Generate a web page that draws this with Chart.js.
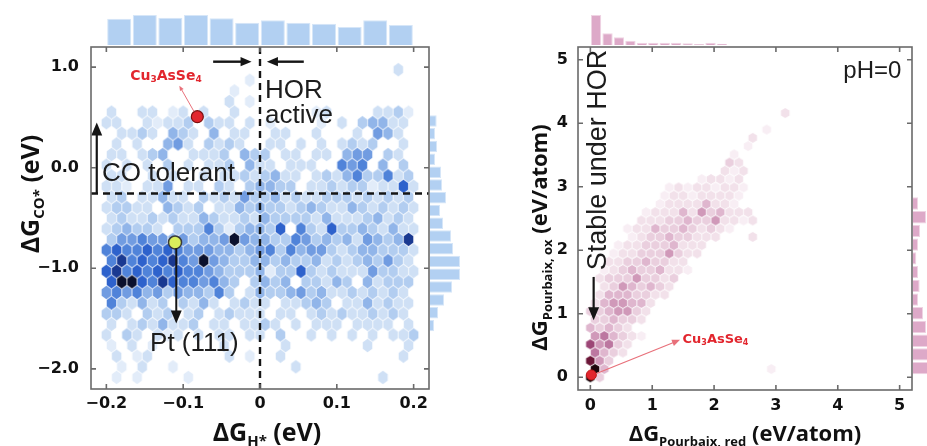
<!DOCTYPE html>
<html>
<head>
<meta charset="utf-8">
<script src="https://cdn.jsdelivr.net/npm/chart.js@4.4.1/dist/chart.umd.min.js"></script>
<style>
body{margin:0;background:#fff;}
#fig{position:relative;width:927px;height:446px;overflow:hidden;background:#fff;}
#fig canvas{position:absolute;}
</style>
</head>
<body>
<div id="fig">
<canvas id="hexCO" width="470" height="446" style="left:0;top:0"></canvas>
<canvas id="histHTop" width="338" height="34" style="left:91px;top:11px"></canvas>
<canvas id="histCORight" width="36" height="342" style="left:430px;top:47px"></canvas>
<canvas id="hexPb" width="457" height="446" style="left:470px;top:0"></canvas>
<canvas id="histRedTop" width="334" height="34" style="left:578px;top:11px"></canvas>
<canvas id="histOxRight" width="40" height="343" style="left:913px;top:47px"></canvas>
</div>
<script>
// hexbin counts (density level 0-9), one string per hex row, top row first
// ΔG_H* vs ΔG_CO*: rows r = 20 .. -9, y = -1.135 + r*0.1055
const hexRowsCO = [
  "0000 0000 0000 0000 0000 0000 0000 200",
  "0000 0000 0000 0010 0000 0000 0000 000",
  "0000 0000 0000 1000 0000 0000 0000 000",
  "0000 0000 0000 2010 0000 0000 0000 000",
  "2002 2012 0200 2000 0000 1200 0022 310",
  "2200 2122 3032 2020 1000 0102 0344 220",
  "0223 2043 2040 2200 2200 2000 2054 200",
  "0202 0045 2032 3200 2202 0202 3230 020",
  "2202 3400 2223 0433 0220 2204 5503 200",
  "2020 2030 2022 3042 2022 2006 5604 030",
  "2200 2020 0202 2323 4220 2324 6336 230",
  "2210 2250 2203 2034 4330 2232 3312 272",
  "2302 2422 0323 2533 4232 2333 2323 230",
  "2332 2043 2302 2434 3323 4322 4323 232",
  "2322 3232 2432 2324 3333 2422 2342 320",
  "2343 3203 3363 1344 3706 3273 3432 422",
  "3556 5545 3445 9544 3365 3434 2543 480",
  "6766 7676 5554 4345 6364 5532 3443 332",
  "6867 6786 5954 3344 3433 4232 3435 320",
  "7867 6767 6654 3334 1337 3232 2253 322",
  "7997 6876 6564 3034 3403 3243 0423 330",
  "5656 4535 4436 3024 3345 3422 3232 320",
  "6324 2303 2420 2322 0223 4302 2423 220",
  "3320 3230 2302 3222 0220 2323 2232 320",
  "2023 2422 3022 0223 2020 2220 2222 020",
  "2032 0212 0202 2022 0300 2020 2020 223",
  "1020 1000 0002 0000 0200 0000 0200 020",
  "0201 2000 0000 2010 0200 0000 0000 020",
  "0102 0010 0000 0000 0020 0000 0000 000",
  "0101 0000 1000 0000 0000 0000 0002 000"
];
// ΔG_Pourbaix red vs ox: rows r = 33 .. 0, y = r*0.13
const hexRowsPb = [
  "0000 0000 0000 0000 0000 000",
  "0000 0000 0000 0000 0000 020",
  "0000 0000 0000 0000 0000 000",
  "0000 0000 0000 0000 0001 000",
  "0000 0000 0000 0000 0200 000",
  "0000 0000 0000 0000 0100 000",
  "0000 0000 0000 0001 0000 000",
  "0000 0000 0000 0003 2000 000",
  "0000 0000 0000 0021 2000 000",
  "0000 0000 0000 1221 2000 000",
  "0000 0000 1212 2122 1000 000",
  "0000 0000 1221 2222 1000 000",
  "0000 0001 2222 4221 0000 000",
  "0000 0012 2242 5342 2200 000",
  "0000 0222 3343 3522 1200 000",
  "0000 1224 3343 2321 0000 000",
  "0000 1233 4332 2200 0200 000",
  "0001 2233 3422 2000 0000 000",
  "0012 2333 5322 0000 0000 000",
  "0022 3343 3220 0000 0000 000",
  "0123 4334 2210 0000 0000 000",
  "0233 3533 2300 0000 0000 000",
  "0235 4343 2000 0000 0000 000",
  "0244 4332 2000 0000 0000 000",
  "2455 4420 0000 0000 0000 000",
  "3345 5320 0000 0000 0000 000",
  "3343 3200 0000 0000 0000 000",
  "4343 2000 0000 0000 0000 000",
  "5643 2100 0000 0000 0000 000",
  "7563 2000 0000 0000 0000 000",
  "6432 0000 0000 0000 0000 000",
  "8530 0000 0000 0000 0000 000",
  "9400 0000 0000 0000 0001 000",
  "9300 0000 0000 0000 0000 000"
];

// marginal histograms
const binsHTop = [-0.1833, -0.15, -0.1167, -0.0833, -0.05, -0.0167, 0.0167, 0.05, 0.0833, 0.1167, 0.15, 0.1833];
const countsHTop = [79, 90, 82, 90, 80, 67, 74, 67, 64, 54, 74, 60];
const binsCORight = [0.464, 0.337, 0.21, 0.083, -0.044, -0.171, -0.298, -0.425, -0.552, -0.679, -0.806, -0.933, -1.06, -1.187, -1.314, -1.441, -1.568];
const countsCORight = [20, 15, 21, 15, 33, 36, 48, 30, 39, 63, 69, 90, 90, 66, 42, 24, 12];
const binsRedTop = [0.0925, 0.2775, 0.4625, 0.6475, 0.8325, 1.0175, 1.2025, 1.3875, 1.5725, 1.7575, 1.9425, 2.1275];
const countsRedTop = [300, 117, 77, 43, 23, 23, 23, 23, 17, 10, 23, 13];
const binsOxRight = [0.144, 0.36, 0.576, 0.792, 1.008, 1.224, 1.44, 1.656, 1.872, 2.088, 2.304, 2.52, 2.736];
const countsOxRight = [60, 66, 57, 39, 30, 15, 20, 15, 10, 15, 21, 39, 15];

// highlighted materials
const cu3AsSe4CO = [{x: -0.0816, y: 0.507}];
const pt111CO = [{x: -0.1106, y: -0.743}];
const cu3AsSe4Pb = [{x: 0.016, y: 0.037}];

// tick labels
const ticksH = [-0.2, -0.1, 0, 0.1, 0.2];
const ticksCO = [1, 0, -1, -2];
const ticksPb = [0, 1, 2, 3, 4, 5];

const blues = [null, '#e2ecf9', '#cfe0f5', '#b2cdf0', '#91b5e9', '#719ce1', '#5083d9', '#2e62cc', '#1a3991', '#0b112e'];
const pinks = [null, '#f8eef4', '#f2e1ea', '#eacfde', '#dfb6ce', '#d099b9', '#bc77a0', '#9c4676', '#6b1637', '#1c060b'];
const RED = '#e2262e';

const SANS = '"Open Sans", "DejaVu Sans", sans-serif';
const DEJA = '"DejaVu Sans", sans-serif';
const ARIAL = '"Liberation Sans", Arial, sans-serif';
const bold = s => `bold ${s}px ${SANS}`;
const plain = s => `${s}px ${ARIAL}`;

function hexCells(rows, topRow, x0, dx, y0, dy, shiftEven) {
  const cells = [];
  rows.forEach((row, k) => {
    const r = topRow - k;
    const shifted = (Math.abs(r) % 2 === 0) === shiftEven;
    row.replace(/ /g, '').split('').forEach((ch, i) => {
      const v = +ch;
      if (!v) return;
      cells.push({x: x0 + (i + (shifted ? 0.5 : 0)) * dx, y: y0 + r * dy, v});
    });
  });
  return cells;
}

const sprites = {};
function hexSprite(color, hw, vh) {
  const key = color + '|' + hw.toFixed(2) + '|' + vh.toFixed(2);
  if (sprites[key]) return sprites[key];
  const c = document.createElement('canvas');
  c.width = Math.ceil(hw * 2) + 2;
  c.height = Math.ceil(vh * 2) + 2;
  const g = c.getContext('2d');
  const cx = c.width / 2, cy = c.height / 2, a = hw - 0.35, b = vh - 0.4;
  g.beginPath();
  g.moveTo(cx, cy - b);
  g.lineTo(cx + a, cy - b / 2);
  g.lineTo(cx + a, cy + b / 2);
  g.lineTo(cx, cy + b);
  g.lineTo(cx - a, cy + b / 2);
  g.lineTo(cx - a, cy - b / 2);
  g.closePath();
  g.fillStyle = color;
  g.fill();
  sprites[key] = c;
  return c;
}

// pointStyle that sizes each hexagon from the bin width in scale units
function hexStyle(dx, dy, palette) {
  return ctx => {
    const xs = ctx.chart.scales.x, ys = ctx.chart.scales.y;
    const hw = Math.abs(xs.getPixelForValue(dx) - xs.getPixelForValue(0)) / 2;
    const vh = Math.abs(ys.getPixelForValue(dy) - ys.getPixelForValue(0)) * 2 / 3;
    const v = ctx.raw && ctx.raw.v ? ctx.raw.v : 1;
    return hexSprite(palette[v], hw, vh);
  };
}

function drawRich(ctx, parts, x, y, rot, align) {
  ctx.save();
  ctx.translate(x, y);
  ctx.rotate(rot || 0);
  let total = 0;
  parts.forEach(p => { ctx.font = p[1]; total += ctx.measureText(p[0]).width; });
  let cx = align === 'left' ? 0 : -total / 2;
  ctx.textAlign = 'left';
  ctx.textBaseline = 'alphabetic';
  parts.forEach(p => {
    ctx.font = p[1];
    ctx.fillStyle = p[3] || '#111';
    ctx.fillText(p[0], cx, p[2] || 0);
    cx += ctx.measureText(p[0]).width;
  });
  ctx.restore();
}

function arrow(ctx, x1, y1, x2, y2, color, w, head) {
  const ang = Math.atan2(y2 - y1, x2 - x1);
  const cs = Math.cos(ang), sn = Math.sin(ang);
  const hw = head * 0.42;
  const bx = x2 - head * cs, by = y2 - head * sn;
  ctx.save();
  ctx.strokeStyle = color;
  ctx.fillStyle = color;
  ctx.lineWidth = w;
  ctx.beginPath();
  ctx.moveTo(x1, y1);
  ctx.lineTo(bx + cs, by + sn);
  ctx.stroke();
  ctx.beginPath();
  ctx.moveTo(x2, y2);
  ctx.lineTo(bx - hw * sn, by + hw * cs);
  ctx.lineTo(bx + hw * sn, by - hw * cs);
  ctx.closePath();
  ctx.fill();
  ctx.restore();
}

// annotations, box with inward ticks, and axis titles with subscripts
function notesPlugin(items, titles) {
  return {
    id: 'notes',
    afterDatasetsDraw(chart) {
      const {ctx, chartArea: a} = chart;
      const xs = chart.scales.x, ys = chart.scales.y;
      const px = v => xs.getPixelForValue(v), py = v => ys.getPixelForValue(v);
      ctx.save();
      ctx.beginPath();
      ctx.rect(a.left, a.top, a.right - a.left, a.bottom - a.top);
      ctx.clip();
      items.forEach(it => {
        if (it.kind === 'vline' || it.kind === 'hline') {
          ctx.save();
          ctx.setLineDash([7, 5]);
          ctx.lineWidth = 2.4;
          ctx.strokeStyle = '#151515';
          ctx.beginPath();
          if (it.kind === 'vline') { ctx.moveTo(px(it.x), a.top); ctx.lineTo(px(it.x), a.bottom); }
          else { ctx.moveTo(a.left, py(it.y)); ctx.lineTo(a.right, py(it.y)); }
          ctx.stroke();
          ctx.restore();
        } else if (it.kind === 'arrow') {
          arrow(ctx, px(it.from[0]), py(it.from[1]), px(it.to[0]), py(it.to[1]),
            it.color || '#151515', it.width || 2.2, it.head || 11);
        } else if (it.kind === 'text') {
          drawRich(ctx, it.parts, px(it.at[0]), py(it.at[1]), (it.rot || 0) * Math.PI / 180, 'left');
        }
      });
      ctx.restore();

      ctx.save();
      ctx.strokeStyle = '#6a6a6a';
      ctx.lineWidth = 1.6;
      ctx.strokeRect(a.left, a.top, a.right - a.left, a.bottom - a.top);
      ctx.beginPath();
      xs.ticks.forEach(t => {
        const p = px(t.value);
        ctx.moveTo(p, a.bottom); ctx.lineTo(p, a.bottom - 5);
        ctx.moveTo(p, a.top); ctx.lineTo(p, a.top + 5);
      });
      ys.ticks.forEach(t => {
        const p = py(t.value);
        ctx.moveTo(a.left, p); ctx.lineTo(a.left + 5, p);
        ctx.moveTo(a.right, p); ctx.lineTo(a.right - 5, p);
      });
      ctx.stroke();
      ctx.restore();
    },
    afterDraw(chart) {
      const {ctx, chartArea: a} = chart;
      drawRich(ctx, titles.x.parts, (a.left + a.right) / 2 + titles.x.shift, chart.height - titles.x.base, 0, 'center');
      drawRich(ctx, titles.y.parts, titles.y.base, (a.top + a.bottom) / 2 + titles.y.shift, -Math.PI / 2, 'center');
    }
  };
}

function fixedBox(size, horizontal) {
  return s => { if (horizontal) s.height = size; else s.width = size; };
}

const cuLabel = s => [
  ['Cu', `bold ${s}px ${DEJA}`, 0, RED],
  ['3', `bold ${Math.round(s * 0.62)}px ${DEJA}`, 2, RED],
  ['AsSe', `bold ${s}px ${DEJA}`, 0, RED],
  ['4', `bold ${Math.round(s * 0.62)}px ${DEJA}`, 2, RED]
];

const common = {
  responsive: false,
  animation: false,
  devicePixelRatio: 1,
  events: [],
  plugins: {legend: {display: false}, tooltip: {enabled: false}}
};

function tickOpts(list, fmt, pad) {
  return {
    font: {family: DEJA, size: 16, weight: 'bold'},
    color: '#111',
    padding: pad,
    stepSize: 1,
    includeBounds: false,
    callback: v => list.some(t => Math.abs(t - v) < 1e-9) ? fmt(v) : null
  };
}

const minus = v => (v < -1e-9 ? '\u2212' : '') + Math.abs(v).toFixed(1);

// ---- ΔG_H* vs ΔG_CO* ----
const notesCO = [
  {kind: 'vline', x: 0},
  {kind: 'hline', y: -0.257},
  {kind: 'arrow', from: [-0.061, 1.054], to: [-0.011, 1.054], width: 2.4, head: 11},
  {kind: 'arrow', from: [0.057, 1.054], to: [0.009, 1.054], width: 2.4, head: 11},
  {kind: 'arrow', from: [-0.2125, -0.257], to: [-0.2125, 0.45], width: 2.2, head: 13},
  {kind: 'arrow', from: [-0.109, -0.8], to: [-0.109, -1.55], width: 2, head: 13},
  {kind: 'arrow', from: [-0.086, 0.56], to: [-0.105, 0.815], color: '#e8707a', width: 1, head: 5},
  {kind: 'text', at: [0.0065, 0.69], parts: [['HOR', plain(26), 0, '#1c1c1c']]},
  {kind: 'text', at: [0.0065, 0.448], parts: [['active', plain(26), 0, '#1c1c1c']]},
  {kind: 'text', at: [-0.2056, -0.1325], parts: [['CO tolerant', plain(26), 0, '#1c1c1c']]},
  {kind: 'text', at: [-0.1431, -1.827], parts: [['Pt (111)', plain(26), 0, '#1c1c1c']]},
  {kind: 'text', at: [-0.169, 0.873], parts: cuLabel(14)}
];
const titlesCO = {
  x: {parts: [['\u0394G', bold(25)], ['H*', bold(15), 5], [' (eV)', bold(25)]], shift: 7, base: 5},
  y: {parts: [['\u0394G', bold(25)], ['CO*', bold(15), 5], [' (eV)', bold(25)]], shift: -24, base: 39}
};

new Chart(document.getElementById('hexCO'), {
  type: 'scatter',
  data: {
    datasets: [
      {data: hexCells(hexRowsCO, 20, -0.2, 0.4 / 30, -1.135, 0.1055, true), order: 2,
       pointStyle: hexStyle(0.4 / 30, 0.1055, blues), pointRadius: 5},
      {data: cu3AsSe4CO, order: 1, pointStyle: 'circle', pointRadius: 6, backgroundColor: RED, borderColor: '#7a1010', borderWidth: 1.2},
      {data: pt111CO, order: 0, pointStyle: 'circle', pointRadius: 6.5, backgroundColor: '#d9ee5c', borderColor: '#3a3a3a', borderWidth: 1.5}
    ]
  },
  options: {
    ...common,
    layout: {padding: {top: 47, right: 41, bottom: 0, left: 0}},
    scales: {
      x: {type: 'linear', min: -0.22, max: 0.22, grid: {display: false, drawTicks: false}, border: {display: false},
          afterFit: fixedBox(57, true),
          ticks: {...tickOpts(ticksH, v => Math.abs(v) < 1e-9 ? '0' : minus(v), 5), stepSize: 0.1}},
      y: {type: 'linear', min: -2.2, max: 1.2, grid: {display: false, drawTicks: false}, border: {display: false},
          afterFit: fixedBox(91, false),
          ticks: tickOpts(ticksCO, minus, 12)}
    }
  },
  plugins: [notesPlugin(notesCO, titlesCO)]
});

// ---- Pourbaix red vs ox ----
const notesPb = [
  {kind: 'text', at: [4.09, 4.71], parts: [['pH=0', plain(24), 0, '#1c1c1c']]},
  {kind: 'text', at: [0.248, 1.685], rot: -90, parts: [['Stable under HOR', plain(27), 0, '#1c1c1c']]},
  {kind: 'arrow', from: [0.053, 1.58], to: [0.053, 0.9], width: 2.2, head: 13},
  {kind: 'arrow', from: [0.1, 0.06], to: [1.45, 0.59], color: '#e8707a', width: 1.2, head: 8},
  {kind: 'text', at: [1.49, 0.54], parts: cuLabel(13)}
];
const titlesPb = {
  x: {parts: [['\u0394G', bold(22)], ['Pourbaix, red', bold(13), 5], [' (eV/atom)', bold(22)]], shift: 0, base: 5},
  y: {parts: [['\u0394G', bold(22)], ['Pourbaix, ox', bold(13), 5], [' (eV/atom)', bold(22)]], shift: 19, base: 77}
};

new Chart(document.getElementById('hexPb'), {
  type: 'scatter',
  data: {
    datasets: [
      {data: hexCells(hexRowsPb, 33, 0, 0.15, 0, 0.13, false), order: 1,
       pointStyle: hexStyle(0.15, 0.13, pinks), pointRadius: 5},
      {data: cu3AsSe4Pb, order: 0, pointStyle: 'circle', pointRadius: 5, backgroundColor: RED, borderColor: '#c01818', borderWidth: 1}
    ]
  },
  options: {
    ...common,
    layout: {padding: {top: 47, right: 15, bottom: 0, left: 0}},
    scales: {
      x: {type: 'linear', min: -0.2, max: 5.2, grid: {display: false, drawTicks: false}, border: {display: false},
          afterFit: fixedBox(56, true),
          ticks: tickOpts(ticksPb, v => String(Math.round(v)), 6)},
      y: {type: 'linear', min: -0.2, max: 5.2, grid: {display: false, drawTicks: false}, border: {display: false},
          afterFit: fixedBox(108, false),
          ticks: tickOpts(ticksPb, v => String(Math.round(v)), 10)}
    }
  },
  plugins: [notesPlugin(notesPb, titlesPb)]
});

// ---- marginal histograms ----
function histChart(id, bins, counts, horizontal, range, maxCount, fill, edge, pct) {
  const data = bins.map((b, i) => horizontal ? {x: counts[i], y: b} : {x: b, y: counts[i]});
  const index = {type: 'linear', display: false, offset: false, min: range[0], max: range[1]};
  const value = {type: 'linear', display: false, min: 0, max: maxCount};
  new Chart(document.getElementById(id), {
    type: 'bar',
    data: {datasets: [{data, backgroundColor: fill, borderColor: edge, borderWidth: 1,
      barPercentage: 1, categoryPercentage: pct}]},
    options: {
      ...common,
      indexAxis: horizontal ? 'y' : 'x',
      layout: {padding: 0},
      scales: horizontal ? {y: index, x: value} : {x: index, y: value}
    }
  });
}

histChart('histHTop', binsHTop, countsHTop, false, [-0.22, 0.22], 102, '#b2d0f2', '#d6e6f8', 0.94);
histChart('histCORight', binsCORight, countsCORight, true, [-2.2, 1.2], 108, '#b2d0f2', '#d6e6f8', 0.9);
histChart('histRedTop', binsRedTop, countsRedTop, false, [-0.2, 5.2], 340, '#dda9c8', '#efd4e3', 0.9);
histChart('histOxRight', binsOxRight, countsOxRight, true, [-0.2, 5.2], 120, '#dda9c8', '#efd4e3', 0.9);
</script>
</body>
</html>
